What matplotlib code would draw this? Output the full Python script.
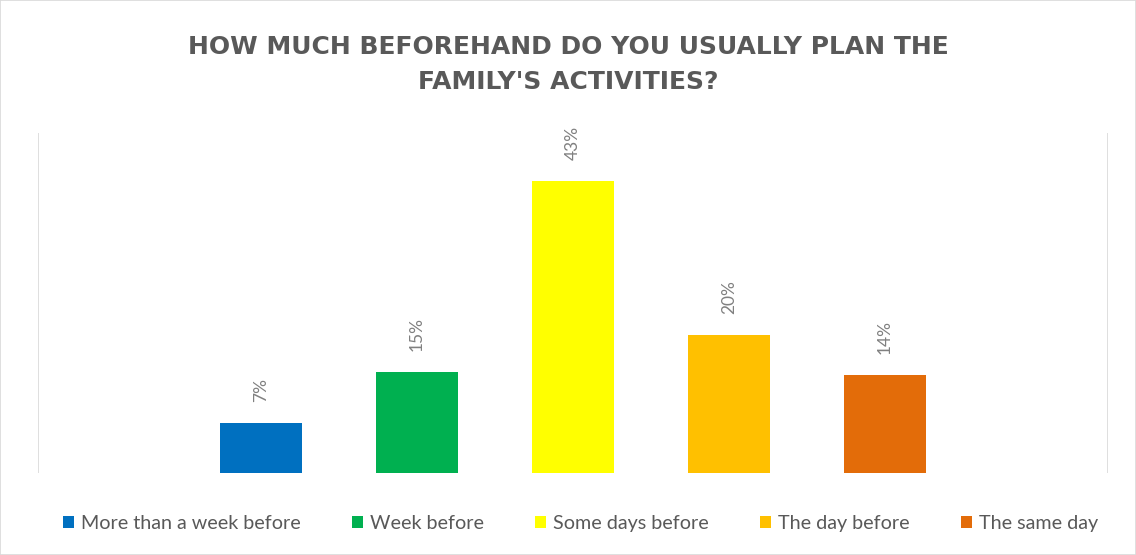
import matplotlib.pyplot as plt
import numpy as np
from matplotlib.patches import Rectangle

# chart data
title = "HOW MUCH BEFOREHAND DO YOU USUALLY PLAN THE\nFAMILY'S ACTIVITIES?"
series = ["More than a week before", "Week before", "Some days before",
          "The day before", "The same day"]
values = [0.074, 0.149, 0.43, 0.203, 0.144]
labels = ["7%", "15%", "43%", "20%", "14%"]
colors = ["#0070C0", "#00B050", "#FFFF00", "#FFC000", "#E36C09"]

text_grey = "#595959"
label_grey = "#808080"

fig = plt.figure(figsize=(11.36, 5.55), dpi=100)
fig.patches.append(Rectangle((0, 0), 1, 1, transform=fig.transFigure,
                             fill=False, edgecolor="#D9D9D9", linewidth=1.2))
ax = fig.add_axes([0.0335, 0.1477, 0.9415, 0.6126])

# one category, five series clustered around it
slot = 0.1458
width = 0.0766
n = len(series)
for i, (name, val, lab, col) in enumerate(zip(series, values, labels, colors)):
    x = (i - (n - 1) / 2) * slot
    ax.bar(x, val, width=width, color=col, label=name)
    ax.annotate(lab, (x, val), xytext=(0, 15), textcoords="offset points",
                rotation=90, ha="center", va="bottom", fontsize=12.5,
                color=label_grey, family="Lato")

ax.set_xlim(-0.5, 0.5)
ax.set_ylim(0, 0.5)
ax.set_xticks([-0.5, 0.5])
ax.set_yticks([])
ax.tick_params(axis="x", length=0, labelbottom=False)
ax.grid(axis="x", color="#D9D9D9", linewidth=1.2)
for s in ax.spines.values():
    s.set_visible(False)

fig.text(0.5, 0.884, title, ha="center", va="center", fontsize=18,
         fontweight="bold", color=text_grey, family="DejaVu Sans",
         linespacing=1.575)

leg = fig.legend(loc="center", bbox_to_anchor=(0.511, 0.057), ncol=n,
                 frameon=False, handlelength=0.56, handleheight=0.56,
                 handletextpad=0.36, columnspacing=2.59,
                 prop={"family": "Lato", "size": 14.2})
for t in leg.get_texts():
    t.set_color(text_grey)

fig.savefig("out.png", dpi=100)
